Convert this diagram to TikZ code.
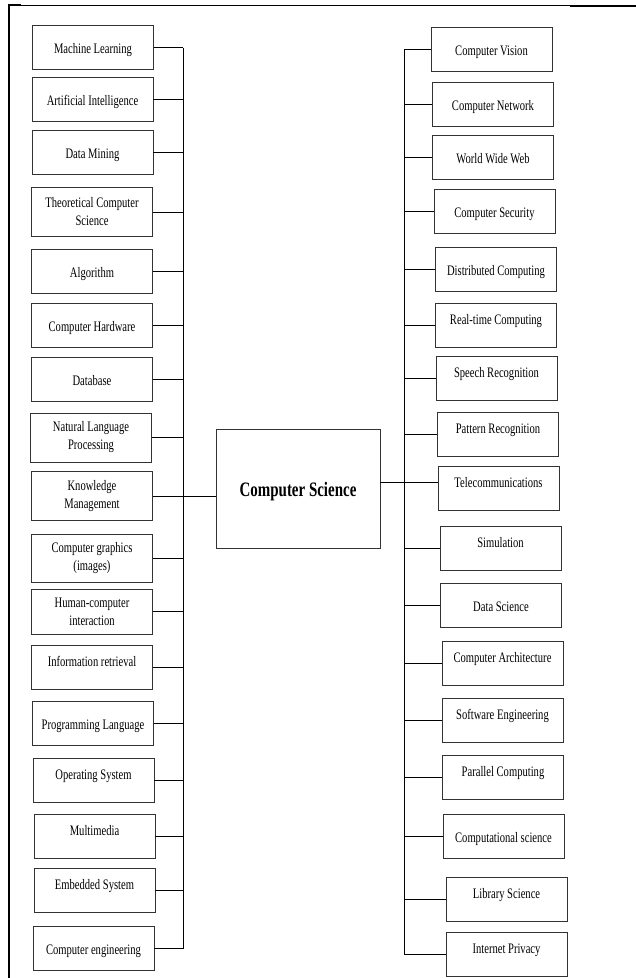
\documentclass[tikz,border=0pt]{standalone}
\usepackage{fontspec}
\setmainfont{Liberation Serif}[FakeStretch=0.73]
\usepackage{tikz}

\begin{document}
\begin{tikzpicture}[x=1pt, y=-1pt, font=\fontsize{14.5}{18}\selectfont,
    topic/.style={draw=black!80, line width=0.8pt, minimum width=121pt, minimum height=44pt, align=center, inner sep=2pt, text height=14pt, text depth=1.5pt},
    tall/.style={draw=black!80, line width=0.8pt, minimum width=121pt, minimum height=49pt, align=center, inner sep=2pt},
    topictop/.style={topic, text height=10pt, text depth=12pt},
    link/.style={line width=0.8pt},
    ]

    % Page frame
    \useasboundingbox (0,0) rectangle (636,978);
    \draw[line width=0.8pt] (8,5) -- (636,5);
    \draw[line width=2.5pt] (8,5) -- (21,5);
    \draw[line width=2.5pt] (570,6) -- (636,6);
    \draw[line width=2.5pt] (9,4) -- (9,978);

    % Computer Science
    \node[draw=black!80, line width=0.8pt, minimum width=164pt, minimum height=119pt, text height=19pt, text depth=3.5pt, font=\fontsize{20.5}{24}\selectfont\bfseries] (csci) at (298,488.5) {Computer Science};

    % Left topics
    \node[topic] (ml) at (93,47.5) {Machine Learning};
    \node[topic] (ai) at (92.5,99.5) {Artificial Intelligence};
    \node[topic] (dm) at (92.5,152) {Data Mining};
    \node[tall] (tcs) at (92,212) {Theoretical Computer\\Science};
    \node[topic] (alg) at (92,271.5) {Algorithm};
    \node[topic] (hw) at (92,325) {Computer Hardware};
    \node[topic] (db) at (92,379.5) {Database};
    \node[tall] (nlp) at (91,437.5) {Natural Language\\Processing};
    \node[tall] (km) at (92,496) {Knowledge\\Management};
    \node[tall, minimum height=48pt] (cg) at (92,558) {Computer graphics\\(images)};
    \node[tall, minimum height=45pt] (hci) at (92,611.5) {Human-computer\\interaction};
    \node[topictop] (ir) at (92,667) {Information retrieval};
    \node[topic] (pl) at (93,723) {Programming Language};
    \node[topictop] (os) at (93.5,780) {Operating System};
    \node[topictop] (mm) at (94.5,836.5) {Multimedia};
    \node[topictop] (es) at (94.5,890.5) {Embedded System};
    \node[topic] (ce) at (93.5,948.5) {Computer engineering};

    % Right topics
    \node[topic] (cv) at (491.5,49) {Computer Vision};
    \node[topic] (cn) at (493,104) {Computer Network};
    \node[topic] (www) at (493,157) {World Wide Web};
    \node[topic] (cs) at (494.5,211) {Computer Security};
    \node[topic] (dc) at (496,269) {Distributed Computing};
    \node[topictop] (rt) at (496,325) {Real-time Computing};
    \node[topictop] (sr) at (496.5,378) {Speech Recognition};
    \node[topictop] (pr) at (498,434) {Pattern Recognition};
    \node[topictop] (tc) at (498.5,488.5) {Telecommunications};
    \node[topictop] (sim) at (500.5,548) {Simulation};
    \node[topic] (ds) at (501,605.5) {Data Science};
    \node[topictop] (ca) at (502.5,663) {Computer Architecture};
    \node[topictop] (se) at (502.5,720.5) {Software Engineering};
    \node[topictop] (pc) at (503,777) {Parallel Computing};
    \node[topic] (csc) at (503.5,836.5) {Computational science};
    \node[topictop] (ls) at (506.5,899.5) {Library Science};
    \node[topictop] (ip) at (506.5,954) {Internet Privacy};

    % Buses
    \coordinate (lbus) at (183,0);
    \coordinate (rbus) at (404,0);
    \coordinate (tcin) at ([yshift=6pt]tc.west);

    % Left links
    \foreach \t in {ml, ai, dm, tcs, alg, hw, db, nlp, km, cg, hci, ir, pl, os, mm, es, ce} {
      \draw[link] (\t.east) -- (\t.east -| lbus);
    }
    \draw[link] (ml.east -| lbus) -- (ce.east -| lbus);
    \draw[link] (csci.west |- km.east) -- (km.east -| lbus);

    % Right links
    \foreach \t in {cv, cn, www, cs, dc, rt, sr, pr, sim, ds, ca, se, pc, csc, ls, ip} {
      \draw[link] (\t.west) -- (\t.west -| rbus);
    }
    \draw[link] (tcin) -- (tcin -| rbus);
    \draw[link] (cv.west -| rbus) -- (ip.west -| rbus);
    \draw[link] (csci.east |- tcin) -- (tcin -| rbus);
  \end{tikzpicture}
\end{document}
